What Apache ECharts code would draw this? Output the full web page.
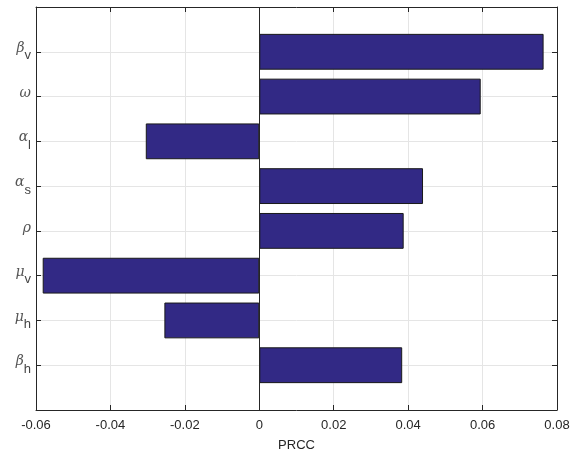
<!DOCTYPE html>
<html><head><meta charset="utf-8">
<script src="https://cdn.jsdelivr.net/npm/echarts@6/dist/echarts.min.js"></script>
<style>html,body{margin:0;padding:0;background:#fff}#c{width:573px;height:458px}</style>
</head><body><div id="c"></div>
<script>
const greek = ['β','ω','α','α','ρ','μ','μ','β'];
const subs = ['v','','l','s','','v','h','h'];
const values = [0.0764, 0.0595, -0.0305, 0.0440, 0.0388, -0.0582, -0.0255, 0.0384];
const xTicks = [-0.06, 0.08, 0.02];
const xName = 'PRCC';

const cats = [''].concat(greek.map((g,i)=>g+'|'+subs[i])).concat(['']);
const data = [null].concat(values).concat([null]);
const axisCol = '#262626';
const chart = echarts.init(document.getElementById('c'));
function yLab(v){
  if(!v) return '';
  const p = v.split('|');
  return '{g|'+p[0]+'}' + (p[1] ? '{s|'+p[1]+'}' : '');
}
chart.setOption({
  animation:false,
  grid:{left:36,right:16,top:7,bottom:48},
  xAxis:[{
    type:'value', min:xTicks[0], max:xTicks[1], interval:xTicks[2],
    position:'bottom',
    name:xName, nameLocation:'middle', nameGap:29,
    nameTextStyle:{color:axisCol,fontSize:13,fontFamily:'Liberation Sans'},
    axisLine:{show:true,onZero:false,lineStyle:{color:axisCol,width:1}},
    axisTick:{show:true,inside:true,length:5,lineStyle:{color:axisCol}},
    axisLabel:{color:axisCol,fontSize:13,fontFamily:'Liberation Sans',margin:9,
      formatter:v=>{const r=Math.round(v*100)/100;return r===0?'0':String(r);}},
    splitLine:{show:true,lineStyle:{color:'#e5e5e5',width:1}}
  },{
    type:'value', min:xTicks[0], max:xTicks[1], interval:xTicks[2],
    position:'top',
    axisLine:{show:true,onZero:false,lineStyle:{color:axisCol,width:1}},
    axisTick:{show:true,inside:true,length:5,lineStyle:{color:axisCol}},
    axisLabel:{show:false}, splitLine:{show:false}
  }],
  yAxis:[{
    type:'category', data:cats, inverse:true, boundaryGap:false,
    position:'left',
    axisLine:{show:true,onZero:false,lineStyle:{color:axisCol,width:1}},
    axisTick:{show:true,inside:true,length:5,lineStyle:{color:axisCol}},
    splitLine:{show:true,lineStyle:{color:'#e5e5e5',width:1}},
    axisLabel:{formatter:yLab,margin:5,color:'#444',
      rich:{
        g:{fontFamily:'DejaVu Serif',fontStyle:'italic',fontSize:14,color:'#555',verticalAlign:'top',padding:[0,0,6,0]},
        s:{fontFamily:'Liberation Sans',fontSize:13,color:'#444',verticalAlign:'bottom',padding:[8,0,0,0]}
      }}
  },{
    type:'category', data:cats, inverse:true, boundaryGap:false,
    position:'right',
    axisLine:{show:true,onZero:false,lineStyle:{color:axisCol,width:1}},
    axisTick:{show:true,inside:true,length:5,lineStyle:{color:axisCol}},
    axisLabel:{show:false}, splitLine:{show:false}
  }],
  series:[{
    type:'bar', data:data, xAxisIndex:0, yAxisIndex:0,
    barWidth:'80%',
    itemStyle:{color:'#322985',borderColor:'#1a1a1a',borderWidth:1},
    markLine:{silent:true,symbol:'none',label:{show:false},
      lineStyle:{color:axisCol,width:1,type:'solid'},
      data:[{xAxis:0}]}
  }]
});
</script></body></html>
